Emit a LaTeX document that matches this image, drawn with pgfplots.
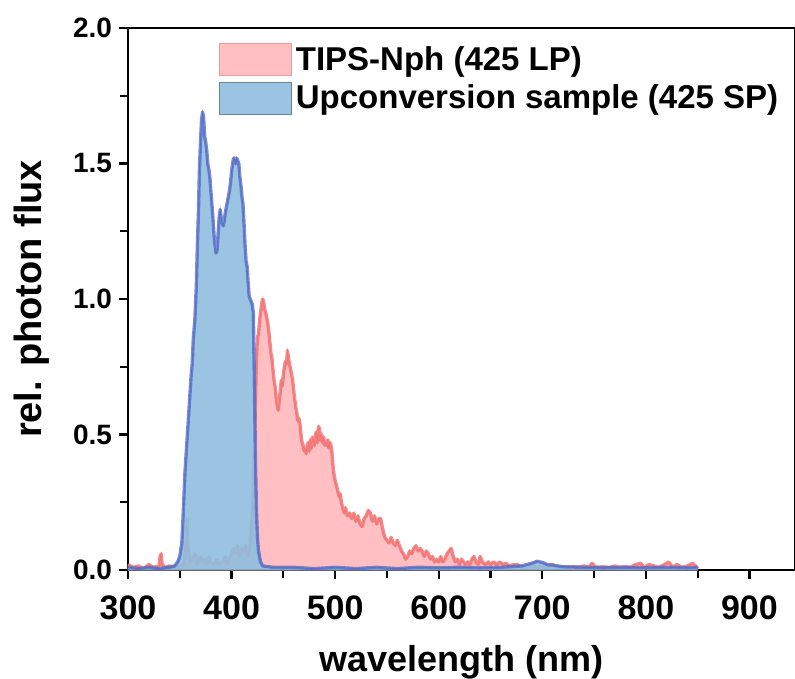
\documentclass[border=0pt]{standalone}
\usepackage{fontspec}
\setmainfont{Liberation Sans}
\usepackage{pgfplots}
\pgfplotsset{compat=1.18}

\definecolor{pinkfill}{HTML}{FFBFC3}
\definecolor{redline}{HTML}{F26A6A}
\definecolor{bluefill}{HTML}{8FBEDE}
\definecolor{blueline}{HTML}{5468CC}

% TIPS-Nph (425 LP)
\pgfplotstableread{
x y
300 0.02
305 0.01
310 0.015
315 0.005
320 0.02
325 0.01
330 0.015
331 0.05
332 0.06
333 0.02
336 0.01
340 0.015
345 0.01
350 0.015
354 0.02
356 0.10
357 0.19
358 0.08
360 0.03
363 0.04
365 0.06
367 0.02
370 0.05
372 0.03
374 0.04
376 0.02
378 0.05
380 0.03
383 0.02
386 0.04
388 0.02
391 0.03
394 0.05
396 0.02
399 0.05
402 0.08
404 0.06
406 0.09
408 0.05
410 0.08
412 0.07
414 0.09
416 0.05
418 0.10
420 0.20
422 0.45
423 0.62
424 0.78
425 0.86
426 0.87
427 0.92
428 0.95
429 0.98
430 1.00
431 0.99
432 0.96
433 0.95
434 0.93
435 0.91
436 0.88
437 0.84
438 0.80
439 0.78
440 0.74
441 0.70
442 0.68
443 0.64
444 0.61
445 0.59
446 0.62
447 0.66
448 0.70
449 0.68
450 0.72
451 0.75
452 0.77
453 0.76
454 0.81
455 0.78
456 0.76
457 0.74
458 0.72
459 0.70
460 0.66
461 0.63
462 0.60
463 0.58
464 0.55
465 0.56
466 0.54
467 0.50
468 0.47
469 0.46
470 0.44
471 0.45
472 0.43
473 0.46
474 0.47
475 0.44
476 0.48
477 0.45
478 0.49
479 0.48
480 0.46
481 0.50
482 0.51
483 0.47
484 0.53
485 0.52
486 0.48
487 0.50
488 0.47
489 0.49
490 0.46
491 0.47
492 0.46
493 0.48
494 0.45
495 0.47
496 0.46
497 0.43
498 0.38
499 0.35
500 0.33
502 0.30
504 0.27
505 0.28
506 0.25
508 0.22
509 0.21
510 0.23
512 0.20
514 0.21
516 0.19
518 0.21
520 0.18
522 0.20
524 0.17
526 0.16
528 0.19
530 0.20
532 0.22
534 0.21
536 0.18
538 0.20
540 0.17
542 0.19
544 0.19
546 0.15
548 0.12
550 0.11
552 0.10
554 0.12
556 0.10
558 0.09
560 0.11
562 0.09
564 0.07
566 0.06
568 0.04
570 0.05
572 0.07
574 0.06
576 0.08
578 0.09
580 0.07
582 0.08
584 0.07
586 0.05
588 0.07
590 0.06
592 0.04
594 0.05
596 0.03
598 0.04
600 0.03
602 0.05
604 0.03
606 0.04
608 0.06
610 0.07
612 0.08
614 0.05
616 0.03
618 0.04
620 0.02
622 0.04
624 0.03
626 0.02
628 0.03
630 0.02
632 0.04
634 0.05
636 0.03
638 0.02
640 0.05
642 0.03
645 0.02
648 0.03
650 0.02
653 0.03
656 0.02
659 0.03
662 0.02
665 0.025
668 0.015
672 0.02
676 0.02
680 0.01
685 0.01
690 0.015
695 0.01
700 0.012
705 0.01
710 0.02
713 0.01
720 0.012
725 0.008
730 0.012
735 0.01
740 0.015
745 0.01
748 0.025
752 0.01
758 0.012
765 0.01
770 0.015
775 0.01
780 0.012
785 0.01
790 0.02
795 0.025
798 0.01
803 0.02
808 0.015
812 0.01
818 0.02
822 0.03
826 0.01
830 0.02
835 0.01
840 0.015
845 0.025
848 0.015
850 0.005
}\tipsdata

% Upconversion sample (425 SP)
\pgfplotstableread{
x y
300 0.01
310 0.005
320 0.01
330 0.005
340 0.01
345 0.015
348 0.03
350 0.05
352 0.10
353 0.18
355 0.36
357 0.48
359 0.60
361 0.72
362 0.76
363 0.85
364.5 0.92
366 1.05
367 1.20
368 1.32
369 1.48
370 1.58
371 1.66
372 1.69
373 1.67
374 1.60
375 1.58
376 1.55
377 1.50
378 1.48
379 1.45
380 1.40
381 1.35
382 1.30
383 1.24
384 1.20
385 1.17
386 1.18
387 1.24
388 1.30
389 1.33
390 1.30
391 1.28
392 1.27
393 1.29
394 1.32
395 1.34
396 1.36
397 1.38
398 1.40
399 1.43
400 1.47
401 1.50
402 1.52
403 1.52
404 1.50
405 1.52
406 1.51
407 1.50
408 1.45
409 1.42
410 1.38
411 1.35
412 1.28
413 1.20
414 1.14
415 1.12
416 1.06
417 1.01
418 1.00
419 0.99
420 0.98
421 0.95
422 0.70
423 0.42
424 0.22
425 0.12
426 0.07
428 0.03
430 0.015
440 0.01
460 0.01
480 0.005
500 0.01
520 0.005
540 0.01
560 0.005
580 0.01
600 0.008
620 0.01
640 0.008
660 0.01
680 0.015
690 0.025
695 0.032
700 0.028
705 0.02
710 0.018
720 0.012
740 0.01
760 0.008
780 0.01
800 0.008
820 0.01
840 0.008
850 0.01
}\updata

\begin{document}
\begin{tikzpicture}
\begin{axis}[
    scale only axis,
    width=333.5bp, height=271bp,
    xmin=300, xmax=944,
    ymin=0, ymax=2,
    xtick={300,400,...,900},
    ytick={0,0.5,...,2},
    minor x tick num=1,
    minor y tick num=1,
    tick pos=left,
    tick align=outside,
    major tick length=4.5bp,
    minor tick length=4bp,
    every tick/.style={black, line width=1.1bp},
    axis line style={line width=1.2bp},
    /pgf/number format/assume math mode=true,
    x tick label style={font=\fontsize{17bp}{19bp}\selectfont\bfseries, /pgf/number format/1000 sep={}, yshift=-5bp},
    y tick label style={font=\fontsize{14bp}{16bp}\selectfont\bfseries, /pgf/number format/fixed, /pgf/number format/fixed zerofill, /pgf/number format/precision=1},
    xlabel={wavelength (nm)},
    ylabel={rel. photon flux},
    xlabel style={font=\fontsize{18bp}{20bp}\selectfont\bfseries, yshift=-6bp},
    ylabel style={font=\fontsize{19bp}{21bp}\selectfont\bfseries, yshift=5bp},
    clip=true,
    legend style={draw=none, fill=none, at={(rel axis cs:0.127,0.982)}, anchor=north west,
        font=\fontsize{16.5bp}{19bp}\selectfont\bfseries, row sep=2bp},
    legend cell align=left,
    legend image code/.code={\draw[#1] (-5bp,-8bp) rectangle (31bp,8bp);},
]
\addplot[draw=redline!70, line width=0.4bp, fill=pinkfill] table[x=x,y=y] {\tipsdata} \closedcycle;
\addlegendentry{TIPS-Nph (425 LP)}
\addplot[forget plot, draw=redline, line width=1.7bp, opacity=0.75, line join=round] table[x=x,y=y] {\tipsdata};
\addplot[draw=bluefill!70!black, line width=0.4bp, fill=bluefill, fill opacity=0.9] table[x=x,y=y] {\updata} \closedcycle;
\addlegendentry{Upconversion sample (425 SP)}
\addplot[forget plot, draw=blueline, line width=1.7bp, opacity=0.75, line join=round] table[x=x,y=y] {\updata};
\coordinate (O) at (rel axis cs:0,0);
\end{axis}
\pgfresetboundingbox
\useasboundingbox (O) ++(-64bp,-54.5bp) rectangle ++(397.5bp,339.5bp);
\end{tikzpicture}
\end{document}
